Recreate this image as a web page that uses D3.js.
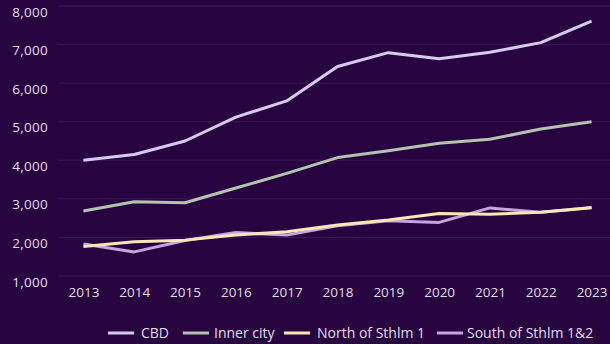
<!DOCTYPE html>
<html>
<head>
<meta charset="utf-8">
<script src="https://cdn.jsdelivr.net/npm/d3@7"></script>
<style>
  html, body { margin: 0; padding: 0; background: #27043f; }
  svg { display: block; }
  text { font-family: "Open Sans", "DejaVu Sans", sans-serif; }
</style>
</head>
<body>
<svg id="chart" width="610" height="344"></svg>
<script>
const years = ["2013","2014","2015","2016","2017","2018","2019","2020","2021","2022","2023"];
const cbd        = [4000, 4150, 4500, 5120, 5540, 6430, 6790, 6630, 6800, 7050, 7610];
const innerCity  = [2685, 2925, 2900, 3280, 3660, 4070, 4250, 4440, 4545, 4810, 5000];
const northSthlm = [1765, 1890, 1930, 2060, 2150, 2320, 2450, 2620, 2600, 2650, 2770];
const southSthlm = [1830, 1625, 1920, 2130, 2060, 2300, 2430, 2390, 2765, 2650, 2775];
const yTicks = [1000, 2000, 3000, 4000, 5000, 6000, 7000, 8000];

const seriesNames  = ["CBD", "Inner city", "North of Sthlm 1", "South of Sthlm 1&2"];
const seriesColors = ["#d6cbee", "#b3c3b0", "#f7e8b6", "#c7a3df"];
const seriesData   = [cbd, innerCity, northSthlm, southSthlm];

const svg = d3.select("#chart");
const W = 610, H = 344;
const margin = { left: 58, right: -7, top: 6, bottom: 68 };

const x = d3.scalePoint()
  .domain(years)
  .range([margin.left, W - margin.right])
  .padding(0.5);

const y = d3.scaleLinear()
  .domain([1000, 8000])
  .range([H - margin.bottom, margin.top]);

// horizontal gridlines
svg.append("g")
  .selectAll("line")
  .data(yTicks)
  .join("line")
  .attr("x1", margin.left)
  .attr("x2", W)
  .attr("y1", d => y(d))
  .attr("y2", d => y(d))
  .attr("stroke", "#3b1759")
  .attr("stroke-width", 1);

// y axis labels: text hangs just below its gridline
const yAxis = d3.axisLeft(y).tickValues(yTicks).tickSize(0).tickPadding(10)
  .tickFormat(d3.format(","));
svg.append("g")
  .attr("transform", `translate(${margin.left},0)`)
  .call(yAxis)
  .call(g => g.select(".domain").remove())
  .call(g => g.selectAll("text")
    .attr("fill", "#e4dcf0")
    .attr("font-size", 13.5)
    .attr("dy", "0.75em")
    .attr("letter-spacing", 0.3)
    .style("font-family", "'Open Sans', sans-serif"));

// x axis labels
const xAxis = d3.axisBottom(x).tickSize(0).tickPadding(11);
svg.append("g")
  .attr("transform", `translate(0,${y(1000)})`)
  .call(xAxis)
  .call(g => g.select(".domain").remove())
  .call(g => g.selectAll("text")
    .attr("fill", "#e4dcf0")
    .attr("font-size", 13.5)
    .style("font-family", "'Open Sans', sans-serif"));

// lines, drawn bottom-up so CBD sits on top
const line = d3.line()
  .x((d, i) => x(years[i]))
  .y(d => y(d));

const order = [3, 2, 1, 0];
svg.append("g")
  .selectAll("path")
  .data(order)
  .join("path")
  .attr("d", i => line(seriesData[i]))
  .attr("fill", "none")
  .attr("stroke", i => seriesColors[i])
  .attr("stroke-width", 3)
  .attr("stroke-linejoin", "round");

// legend
const legendItems = [
  { lx: 108, tx: 141 },
  { lx: 183, tx: 214 },
  { lx: 284, tx: 317 },
  { lx: 437, tx: 467 }
];
const legend = svg.append("g");
const lg = legend.selectAll("g")
  .data(seriesNames)
  .join("g");
lg.append("line")
  .attr("x1", (d, i) => legendItems[i].lx)
  .attr("x2", (d, i) => legendItems[i].lx + 26)
  .attr("y1", 333)
  .attr("y2", 333)
  .attr("stroke", (d, i) => seriesColors[i])
  .attr("stroke-width", 3);
lg.append("text")
  .attr("x", (d, i) => legendItems[i].tx)
  .attr("y", 333)
  .attr("dy", "0.35em")
  .attr("fill", "#e4dcf0")
  .attr("font-size", 14)
  .text(d => d);
</script>
</body>
</html>
